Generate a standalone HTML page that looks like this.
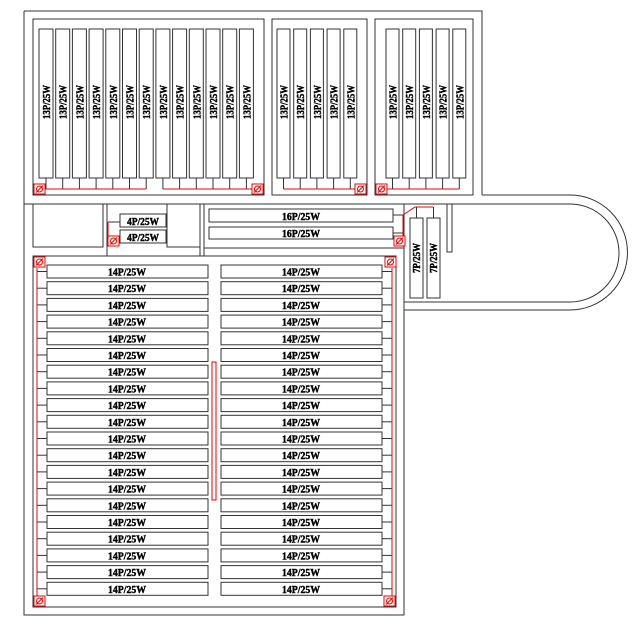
<!DOCTYPE html>
<html><head><meta charset="utf-8"><style>
html,body{margin:0;padding:0;background:#fff;}
svg{display:block;}
text{font-family:"Liberation Serif",serif;font-weight:bold;font-size:11px;fill:#000;stroke:#000;stroke-width:0.45;}
</style></head><body>
<svg width="642" height="635" viewBox="0 0 642 635" xmlns="http://www.w3.org/2000/svg">
<g fill="none" stroke="#333" stroke-width="1">
<path d="M24,11 H482 V195"/>
<path d="M24,11 V615 H404 V302"/>
<line x1="24" y1="204" x2="570" y2="204"/>
<line x1="482" y1="195" x2="570" y2="195"/>
<path d="M570,195 A57.5,57.5 0 0 1 570,310 H404"/>
<path d="M570,204 A49,49 0 0 1 570,302 H404"/>
<line x1="404" y1="204" x2="404" y2="302"/>
<rect x="447" y="204" width="5" height="48"/>
<rect x="33" y="19" width="231" height="176"/>
<rect x="272" y="19" width="95" height="176"/>
<rect x="375" y="19" width="98" height="176"/>
<path d="M33,204 V247 H103 V204"/>
<path d="M107,204 V256"/>
<path d="M167,204 V247 H200 V204"/>
<path d="M204,204 V256"/>
<rect x="33" y="256" width="363" height="351"/>
<line x1="204" y1="248" x2="404" y2="248"/>
<line x1="200" y1="247" x2="200" y2="256"/>
</g>

<g fill="#fff" stroke="#333">
<rect x="39" y="29" width="14" height="149"/><rect x="55.7" y="29" width="14" height="149"/><rect x="72.4" y="29" width="14" height="149"/><rect x="89.1" y="29" width="14" height="149"/><rect x="105.8" y="29" width="14" height="149"/><rect x="122.5" y="29" width="14" height="149"/><rect x="139.2" y="29" width="14" height="149"/><rect x="155.9" y="29" width="14" height="149"/><rect x="172.6" y="29" width="14" height="149"/><rect x="189.3" y="29" width="14" height="149"/><rect x="206" y="29" width="14" height="149"/><rect x="222.7" y="29" width="14" height="149"/><rect x="239.4" y="29" width="14" height="149"/>
<rect x="277" y="29" width="13" height="149"/><rect x="293.7" y="29" width="13" height="149"/><rect x="310.4" y="29" width="13" height="149"/><rect x="327.1" y="29" width="13" height="149"/><rect x="343.8" y="29" width="13" height="149"/>
<rect x="386" y="29" width="13" height="149"/><rect x="402.7" y="29" width="13" height="149"/><rect x="419.4" y="29" width="13" height="149"/><rect x="436.1" y="29" width="13" height="149"/><rect x="452.8" y="29" width="13" height="149"/>
</g>
<g stroke="#333">
<line x1="46" y1="178" x2="46" y2="189"/><line x1="62.7" y1="178" x2="62.7" y2="189"/><line x1="79.4" y1="178" x2="79.4" y2="189"/><line x1="96.1" y1="178" x2="96.1" y2="189"/><line x1="112.8" y1="178" x2="112.8" y2="189"/><line x1="129.5" y1="178" x2="129.5" y2="189"/><line x1="146.2" y1="178" x2="146.2" y2="189"/><line x1="162.9" y1="178" x2="162.9" y2="189"/><line x1="179.6" y1="178" x2="179.6" y2="189"/><line x1="196.3" y1="178" x2="196.3" y2="189"/><line x1="213" y1="178" x2="213" y2="189"/><line x1="229.7" y1="178" x2="229.7" y2="189"/><line x1="246.4" y1="178" x2="246.4" y2="189"/>
<line x1="283.5" y1="178" x2="283.5" y2="189"/><line x1="300.2" y1="178" x2="300.2" y2="189"/><line x1="316.9" y1="178" x2="316.9" y2="189"/><line x1="333.6" y1="178" x2="333.6" y2="189"/><line x1="350.3" y1="178" x2="350.3" y2="189"/>
<line x1="392.5" y1="178" x2="392.5" y2="189"/><line x1="409.2" y1="178" x2="409.2" y2="189"/><line x1="425.9" y1="178" x2="425.9" y2="189"/><line x1="442.6" y1="178" x2="442.6" y2="189"/><line x1="459.3" y1="178" x2="459.3" y2="189"/>
</g>
<g stroke="#e00" fill="none">
<line x1="40" y1="189" x2="146.2" y2="189"/><line x1="162.9" y1="189" x2="257" y2="189"/>
<line x1="283.5" y1="189" x2="360" y2="189"/>
<line x1="381" y1="189" x2="459.3" y2="189"/>
</g>
<g font-size="10">
<text transform="translate(50,102) rotate(-90)" text-anchor="middle" textLength="34" lengthAdjust="spacingAndGlyphs">13P/25W</text>
<text transform="translate(66.7,102) rotate(-90)" text-anchor="middle" textLength="34" lengthAdjust="spacingAndGlyphs">13P/25W</text>
<text transform="translate(83.4,102) rotate(-90)" text-anchor="middle" textLength="34" lengthAdjust="spacingAndGlyphs">13P/25W</text>
<text transform="translate(100.1,102) rotate(-90)" text-anchor="middle" textLength="34" lengthAdjust="spacingAndGlyphs">13P/25W</text>
<text transform="translate(116.8,102) rotate(-90)" text-anchor="middle" textLength="34" lengthAdjust="spacingAndGlyphs">13P/25W</text>
<text transform="translate(133.5,102) rotate(-90)" text-anchor="middle" textLength="34" lengthAdjust="spacingAndGlyphs">13P/25W</text>
<text transform="translate(150.2,102) rotate(-90)" text-anchor="middle" textLength="34" lengthAdjust="spacingAndGlyphs">13P/25W</text>
<text transform="translate(166.9,102) rotate(-90)" text-anchor="middle" textLength="34" lengthAdjust="spacingAndGlyphs">13P/25W</text>
<text transform="translate(183.6,102) rotate(-90)" text-anchor="middle" textLength="34" lengthAdjust="spacingAndGlyphs">13P/25W</text>
<text transform="translate(200.3,102) rotate(-90)" text-anchor="middle" textLength="34" lengthAdjust="spacingAndGlyphs">13P/25W</text>
<text transform="translate(217,102) rotate(-90)" text-anchor="middle" textLength="34" lengthAdjust="spacingAndGlyphs">13P/25W</text>
<text transform="translate(233.7,102) rotate(-90)" text-anchor="middle" textLength="34" lengthAdjust="spacingAndGlyphs">13P/25W</text>
<text transform="translate(250.4,102) rotate(-90)" text-anchor="middle" textLength="34" lengthAdjust="spacingAndGlyphs">13P/25W</text>
<text transform="translate(287.5,102) rotate(-90)" text-anchor="middle" textLength="34" lengthAdjust="spacingAndGlyphs">13P/25W</text>
<text transform="translate(304.2,102) rotate(-90)" text-anchor="middle" textLength="34" lengthAdjust="spacingAndGlyphs">13P/25W</text>
<text transform="translate(320.9,102) rotate(-90)" text-anchor="middle" textLength="34" lengthAdjust="spacingAndGlyphs">13P/25W</text>
<text transform="translate(337.6,102) rotate(-90)" text-anchor="middle" textLength="34" lengthAdjust="spacingAndGlyphs">13P/25W</text>
<text transform="translate(354.3,102) rotate(-90)" text-anchor="middle" textLength="34" lengthAdjust="spacingAndGlyphs">13P/25W</text>
<text transform="translate(396.5,102) rotate(-90)" text-anchor="middle" textLength="34" lengthAdjust="spacingAndGlyphs">13P/25W</text>
<text transform="translate(413.2,102) rotate(-90)" text-anchor="middle" textLength="34" lengthAdjust="spacingAndGlyphs">13P/25W</text>
<text transform="translate(429.9,102) rotate(-90)" text-anchor="middle" textLength="34" lengthAdjust="spacingAndGlyphs">13P/25W</text>
<text transform="translate(446.6,102) rotate(-90)" text-anchor="middle" textLength="34" lengthAdjust="spacingAndGlyphs">13P/25W</text>
<text transform="translate(463.3,102) rotate(-90)" text-anchor="middle" textLength="34" lengthAdjust="spacingAndGlyphs">13P/25W</text>
</g>

<g fill="#fff" stroke="#333">
<rect x="120" y="214" width="46" height="13"/>
<rect x="120" y="230" width="46" height="13"/>
<rect x="209" y="209" width="184" height="13"/>
<rect x="209" y="227" width="184" height="12"/>
<rect x="410" y="218" width="13" height="80"/>
<rect x="427" y="218" width="13" height="80"/>
</g>
<g stroke="#333" fill="none">
<line x1="108" y1="222" x2="120" y2="222"/>
<line x1="393" y1="215" x2="403" y2="215"/>
<line x1="393" y1="233" x2="403" y2="233"/>
<line x1="416.5" y1="207" x2="416.5" y2="218"/>
<line x1="433.5" y1="207" x2="433.5" y2="218"/>
</g>
<g stroke="#e00" fill="none">
<line x1="108" y1="222" x2="108" y2="236"/>
<path d="M403,236 V215 L415,207 H433"/>
</g>
<text x="143" y="225" text-anchor="middle" textLength="32" lengthAdjust="spacingAndGlyphs">4P/25W</text>
<text x="143" y="241" text-anchor="middle" textLength="32" lengthAdjust="spacingAndGlyphs">4P/25W</text>
<text x="301" y="220" text-anchor="middle" textLength="38" lengthAdjust="spacingAndGlyphs">16P/25W</text>
<text x="301" y="237" text-anchor="middle" textLength="38" lengthAdjust="spacingAndGlyphs">16P/25W</text>
<text transform="translate(420,258) rotate(-90)" text-anchor="middle" font-size="10" textLength="30" lengthAdjust="spacingAndGlyphs">7P/25W</text>
<text transform="translate(437,258) rotate(-90)" text-anchor="middle" font-size="10" textLength="30" lengthAdjust="spacingAndGlyphs">7P/25W</text>

<g fill="#fff" stroke="#333">
<rect x="47" y="265" width="161" height="13"/><rect x="221" y="265" width="161" height="13"/>
<rect x="47" y="281.7" width="161" height="13"/><rect x="221" y="281.7" width="161" height="13"/>
<rect x="47" y="298.4" width="161" height="13"/><rect x="221" y="298.4" width="161" height="13"/>
<rect x="47" y="315.1" width="161" height="13"/><rect x="221" y="315.1" width="161" height="13"/>
<rect x="47" y="331.8" width="161" height="13"/><rect x="221" y="331.8" width="161" height="13"/>
<rect x="47" y="348.5" width="161" height="13"/><rect x="221" y="348.5" width="161" height="13"/>
<rect x="47" y="365.2" width="161" height="13"/><rect x="221" y="365.2" width="161" height="13"/>
<rect x="47" y="381.9" width="161" height="13"/><rect x="221" y="381.9" width="161" height="13"/>
<rect x="47" y="398.6" width="161" height="13"/><rect x="221" y="398.6" width="161" height="13"/>
<rect x="47" y="415.3" width="161" height="13"/><rect x="221" y="415.3" width="161" height="13"/>
<rect x="47" y="432" width="161" height="13"/><rect x="221" y="432" width="161" height="13"/>
<rect x="47" y="448.7" width="161" height="13"/><rect x="221" y="448.7" width="161" height="13"/>
<rect x="47" y="465.4" width="161" height="13"/><rect x="221" y="465.4" width="161" height="13"/>
<rect x="47" y="482.1" width="161" height="13"/><rect x="221" y="482.1" width="161" height="13"/>
<rect x="47" y="498.8" width="161" height="13"/><rect x="221" y="498.8" width="161" height="13"/>
<rect x="47" y="515.5" width="161" height="13"/><rect x="221" y="515.5" width="161" height="13"/>
<rect x="47" y="532.2" width="161" height="13"/><rect x="221" y="532.2" width="161" height="13"/>
<rect x="47" y="548.9" width="161" height="13"/><rect x="221" y="548.9" width="161" height="13"/>
<rect x="47" y="565.6" width="161" height="13"/><rect x="221" y="565.6" width="161" height="13"/>
<rect x="47" y="582.3" width="161" height="13"/><rect x="221" y="582.3" width="161" height="13"/>
</g>
<g stroke="#333">
<line x1="37" y1="271.5" x2="47" y2="271.5"/><line x1="382" y1="271.5" x2="392" y2="271.5"/>
<line x1="37" y1="288.2" x2="47" y2="288.2"/><line x1="382" y1="288.2" x2="392" y2="288.2"/>
<line x1="37" y1="304.9" x2="47" y2="304.9"/><line x1="382" y1="304.9" x2="392" y2="304.9"/>
<line x1="37" y1="321.6" x2="47" y2="321.6"/><line x1="382" y1="321.6" x2="392" y2="321.6"/>
<line x1="37" y1="338.3" x2="47" y2="338.3"/><line x1="382" y1="338.3" x2="392" y2="338.3"/>
<line x1="37" y1="355" x2="47" y2="355"/><line x1="382" y1="355" x2="392" y2="355"/>
<line x1="37" y1="371.7" x2="47" y2="371.7"/><line x1="382" y1="371.7" x2="392" y2="371.7"/>
<line x1="37" y1="388.4" x2="47" y2="388.4"/><line x1="382" y1="388.4" x2="392" y2="388.4"/>
<line x1="37" y1="405.1" x2="47" y2="405.1"/><line x1="382" y1="405.1" x2="392" y2="405.1"/>
<line x1="37" y1="421.8" x2="47" y2="421.8"/><line x1="382" y1="421.8" x2="392" y2="421.8"/>
<line x1="37" y1="438.5" x2="47" y2="438.5"/><line x1="382" y1="438.5" x2="392" y2="438.5"/>
<line x1="37" y1="455.2" x2="47" y2="455.2"/><line x1="382" y1="455.2" x2="392" y2="455.2"/>
<line x1="37" y1="471.9" x2="47" y2="471.9"/><line x1="382" y1="471.9" x2="392" y2="471.9"/>
<line x1="37" y1="488.6" x2="47" y2="488.6"/><line x1="382" y1="488.6" x2="392" y2="488.6"/>
<line x1="37" y1="505.3" x2="47" y2="505.3"/><line x1="382" y1="505.3" x2="392" y2="505.3"/>
<line x1="37" y1="522" x2="47" y2="522"/><line x1="382" y1="522" x2="392" y2="522"/>
<line x1="37" y1="538.7" x2="47" y2="538.7"/><line x1="382" y1="538.7" x2="392" y2="538.7"/>
<line x1="37" y1="555.4" x2="47" y2="555.4"/><line x1="382" y1="555.4" x2="392" y2="555.4"/>
<line x1="37" y1="572.1" x2="47" y2="572.1"/><line x1="382" y1="572.1" x2="392" y2="572.1"/>
<line x1="37" y1="588.8" x2="47" y2="588.8"/><line x1="382" y1="588.8" x2="392" y2="588.8"/>
</g>
<g stroke="#e00" fill="none">
<line x1="37" y1="268" x2="37" y2="596"/>
<line x1="392" y1="268" x2="392" y2="596"/>
<rect x="212" y="362" width="4" height="138"/>
</g>
<g text-anchor="middle">
<text x="127" y="275.5" textLength="38" lengthAdjust="spacingAndGlyphs">14P/25W</text><text x="301" y="275.5" textLength="38" lengthAdjust="spacingAndGlyphs">14P/25W</text>
<text x="127" y="292.2" textLength="38" lengthAdjust="spacingAndGlyphs">14P/25W</text><text x="301" y="292.2" textLength="38" lengthAdjust="spacingAndGlyphs">14P/25W</text>
<text x="127" y="308.9" textLength="38" lengthAdjust="spacingAndGlyphs">14P/25W</text><text x="301" y="308.9" textLength="38" lengthAdjust="spacingAndGlyphs">14P/25W</text>
<text x="127" y="325.6" textLength="38" lengthAdjust="spacingAndGlyphs">14P/25W</text><text x="301" y="325.6" textLength="38" lengthAdjust="spacingAndGlyphs">14P/25W</text>
<text x="127" y="342.3" textLength="38" lengthAdjust="spacingAndGlyphs">14P/25W</text><text x="301" y="342.3" textLength="38" lengthAdjust="spacingAndGlyphs">14P/25W</text>
<text x="127" y="359" textLength="38" lengthAdjust="spacingAndGlyphs">14P/25W</text><text x="301" y="359" textLength="38" lengthAdjust="spacingAndGlyphs">14P/25W</text>
<text x="127" y="375.7" textLength="38" lengthAdjust="spacingAndGlyphs">14P/25W</text><text x="301" y="375.7" textLength="38" lengthAdjust="spacingAndGlyphs">14P/25W</text>
<text x="127" y="392.4" textLength="38" lengthAdjust="spacingAndGlyphs">14P/25W</text><text x="301" y="392.4" textLength="38" lengthAdjust="spacingAndGlyphs">14P/25W</text>
<text x="127" y="409.1" textLength="38" lengthAdjust="spacingAndGlyphs">14P/25W</text><text x="301" y="409.1" textLength="38" lengthAdjust="spacingAndGlyphs">14P/25W</text>
<text x="127" y="425.8" textLength="38" lengthAdjust="spacingAndGlyphs">14P/25W</text><text x="301" y="425.8" textLength="38" lengthAdjust="spacingAndGlyphs">14P/25W</text>
<text x="127" y="442.5" textLength="38" lengthAdjust="spacingAndGlyphs">14P/25W</text><text x="301" y="442.5" textLength="38" lengthAdjust="spacingAndGlyphs">14P/25W</text>
<text x="127" y="459.2" textLength="38" lengthAdjust="spacingAndGlyphs">14P/25W</text><text x="301" y="459.2" textLength="38" lengthAdjust="spacingAndGlyphs">14P/25W</text>
<text x="127" y="475.9" textLength="38" lengthAdjust="spacingAndGlyphs">14P/25W</text><text x="301" y="475.9" textLength="38" lengthAdjust="spacingAndGlyphs">14P/25W</text>
<text x="127" y="492.6" textLength="38" lengthAdjust="spacingAndGlyphs">14P/25W</text><text x="301" y="492.6" textLength="38" lengthAdjust="spacingAndGlyphs">14P/25W</text>
<text x="127" y="509.3" textLength="38" lengthAdjust="spacingAndGlyphs">14P/25W</text><text x="301" y="509.3" textLength="38" lengthAdjust="spacingAndGlyphs">14P/25W</text>
<text x="127" y="526" textLength="38" lengthAdjust="spacingAndGlyphs">14P/25W</text><text x="301" y="526" textLength="38" lengthAdjust="spacingAndGlyphs">14P/25W</text>
<text x="127" y="542.7" textLength="38" lengthAdjust="spacingAndGlyphs">14P/25W</text><text x="301" y="542.7" textLength="38" lengthAdjust="spacingAndGlyphs">14P/25W</text>
<text x="127" y="559.4" textLength="38" lengthAdjust="spacingAndGlyphs">14P/25W</text><text x="301" y="559.4" textLength="38" lengthAdjust="spacingAndGlyphs">14P/25W</text>
<text x="127" y="576.1" textLength="38" lengthAdjust="spacingAndGlyphs">14P/25W</text><text x="301" y="576.1" textLength="38" lengthAdjust="spacingAndGlyphs">14P/25W</text>
<text x="127" y="592.8" textLength="38" lengthAdjust="spacingAndGlyphs">14P/25W</text><text x="301" y="592.8" textLength="38" lengthAdjust="spacingAndGlyphs">14P/25W</text>
</g>

<g stroke="#e00" fill="#fff" stroke-width="1">
<g><rect x="34" y="184" width="11" height="10"/><circle cx="39.5" cy="189" r="3" fill="none"/><line x1="36" y1="192.5" x2="43" y2="185.5"/></g>
<g><rect x="252" y="184" width="11" height="10"/><circle cx="257.5" cy="189" r="3" fill="none"/><line x1="254" y1="192.5" x2="261" y2="185.5"/></g>
<g><rect x="355" y="184" width="11" height="10"/><circle cx="360.5" cy="189" r="3" fill="none"/><line x1="357" y1="192.5" x2="364" y2="185.5"/></g>
<g><rect x="376" y="184" width="11" height="10"/><circle cx="381.5" cy="189" r="3" fill="none"/><line x1="378" y1="192.5" x2="385" y2="185.5"/></g>
<g><rect x="108" y="236" width="11" height="10"/><circle cx="113.5" cy="241" r="3" fill="none"/><line x1="110" y1="244.5" x2="117" y2="237.5"/></g>
<g><rect x="394" y="236" width="11" height="10"/><circle cx="399.5" cy="241" r="3" fill="none"/><line x1="396" y1="244.5" x2="403" y2="237.5"/></g>
<g><rect x="34" y="257" width="11" height="10"/><circle cx="39.5" cy="262" r="3" fill="none"/><line x1="36" y1="265.5" x2="43" y2="258.5"/></g>
<g><rect x="385" y="257" width="11" height="10"/><circle cx="390.5" cy="262" r="3" fill="none"/><line x1="387" y1="265.5" x2="394" y2="258.5"/></g>
<g><rect x="34" y="596" width="11" height="10"/><circle cx="39.5" cy="601" r="3" fill="none"/><line x1="36" y1="604.5" x2="43" y2="597.5"/></g>
<g><rect x="384" y="596" width="11" height="10"/><circle cx="389.5" cy="601" r="3" fill="none"/><line x1="386" y1="604.5" x2="393" y2="597.5"/></g>
</g>
</svg>
</body></html>
